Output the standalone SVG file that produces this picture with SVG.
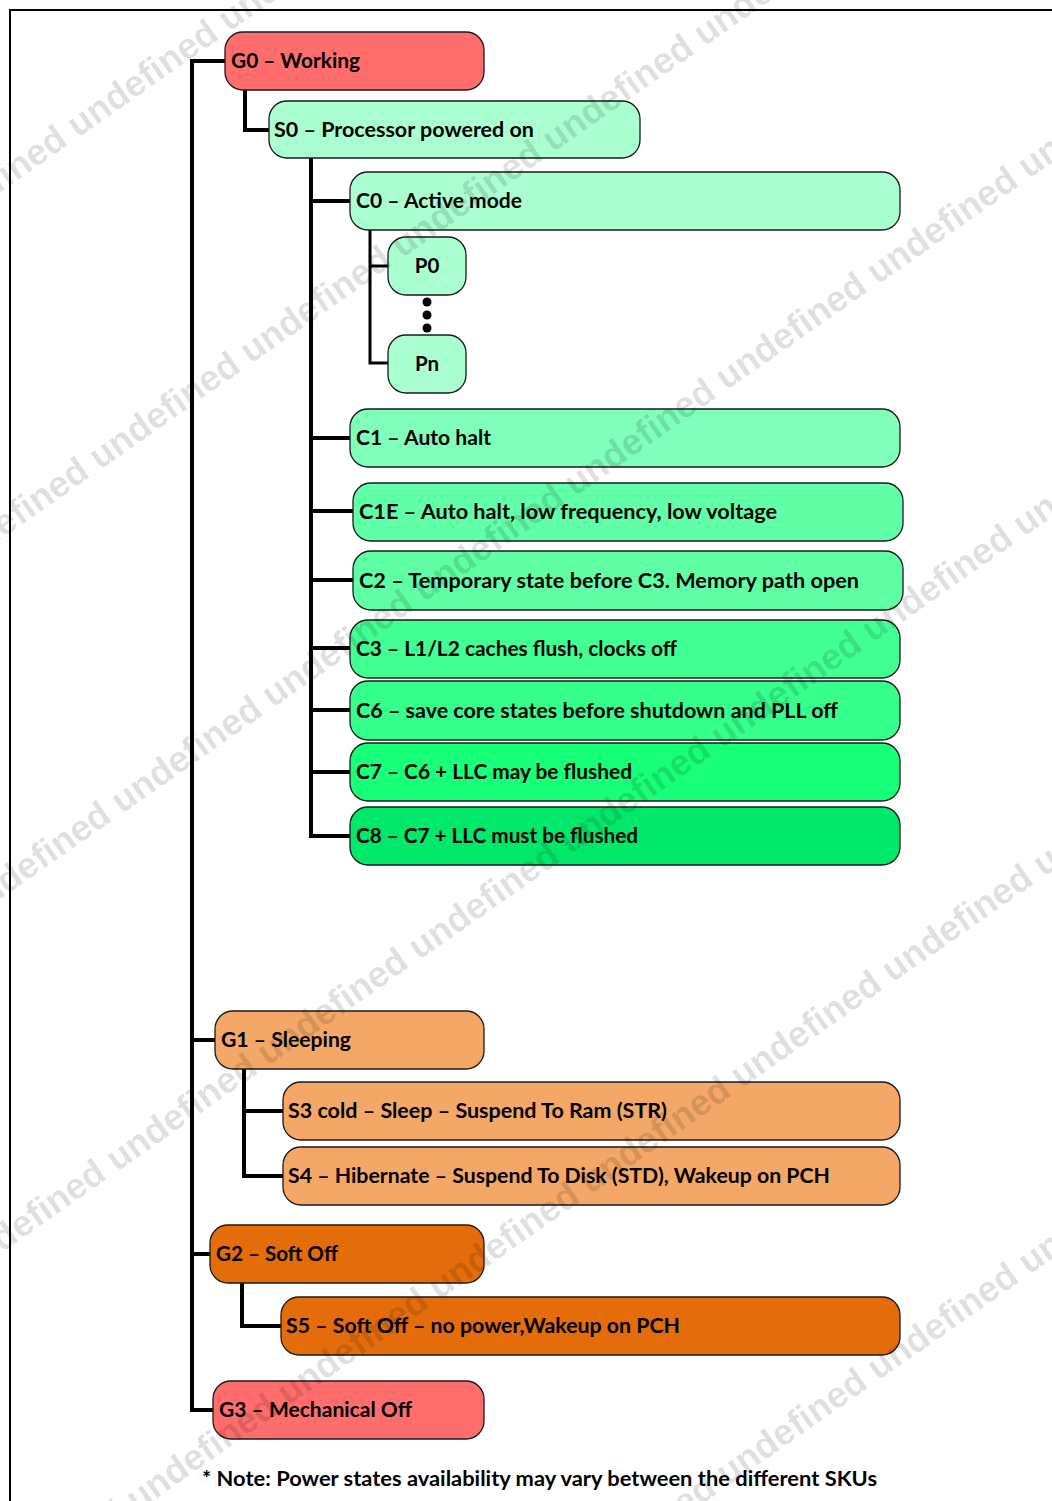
<svg xmlns="http://www.w3.org/2000/svg" width="1052" height="1501" viewBox="0 0 1052 1501">
<style>
.box{stroke:#1a1a1a;stroke-width:1.3}
.t{font-family:Lato,"Open Sans","Liberation Sans",sans-serif;font-weight:bold;font-size:20.5px;fill:#000}
.ln{fill:none;stroke:#000;stroke-width:4;stroke-linejoin:miter}
.wm{font-family:"Liberation Sans",Arial,sans-serif;font-weight:bold;font-size:36.5px;fill:#000;fill-opacity:0.12}
.red{fill:#FF6D6D}.mint{fill:#AAFFD0}.c1{fill:#7FFFB9}.c1e{fill:#61FFA7}.c2{fill:#61FFA5}.c3{fill:#42FF93}.c6{fill:#36FF8B}.c7{fill:#18FF78}.c8{fill:#00E86A}.sand{fill:#F4A766}.org{fill:#E46C0A}
</style>
<rect width="1052" height="1501" fill="#fff"/>
<g id="frame"><path d="M10 1501 V10 H1052" fill="none" stroke="#000" stroke-width="2"/></g>
<g id="connectors">
<path class="ln" d="M225 61 H192 V1410 H213"/>
<path class="ln" d="M192 1040 H215"/>
<path class="ln" d="M192 1254 H210"/>
<path class="ln" d="M245 90 V130 H270"/>
<path class="ln" d="M311 158 V836 H350"/>
<path class="ln" d="M311 201 H350 M311 438 H350 M311 511 H353 M311 580 H353 M311 648 H350 M311 710 H350 M311 772 H350"/>
<path class="ln" style="stroke-width:3" d="M370 230 V363 H389 M370 266 H389"/>
<path class="ln" d="M244 1069 V1176 H283 M244 1111 H283"/>
<path class="ln" d="M242 1283 V1326 H281"/>
</g>
<g id="G0"><rect class="box red" x="225" y="32" width="259" height="58" rx="18"/><text class="t" x="231" y="68" textLength="129" lengthAdjust="spacingAndGlyphs">G0 – Working</text></g>
<g id="S0"><rect class="box mint" x="269" y="101" width="371" height="57" rx="18"/><text class="t" x="274" y="137" textLength="260" lengthAdjust="spacingAndGlyphs">S0 – Processor powered on</text></g>
<g id="C0"><rect class="box mint" x="350" y="172" width="550" height="58" rx="18"/><text class="t" x="356" y="208" textLength="166" lengthAdjust="spacingAndGlyphs">C0 – Active mode</text></g>
<g id="P0"><rect class="box mint" x="388" y="237" width="78" height="58" rx="18"/><text class="t" x="427" y="273" text-anchor="middle">P0</text></g>
<g id="dots"><circle cx="427" cy="302" r="4.5"/><circle cx="427" cy="315" r="4.5"/><circle cx="427" cy="328" r="4.5"/></g>
<g id="Pn"><rect class="box mint" x="388" y="335" width="78" height="58" rx="18"/><text class="t" x="427" y="371" text-anchor="middle">Pn</text></g>
<g id="C1"><rect class="box c1" x="350" y="409" width="550" height="58" rx="18"/><text class="t" x="356" y="445" textLength="135" lengthAdjust="spacingAndGlyphs">C1 – Auto halt</text></g>
<g id="C1E"><rect class="box c1e" x="353" y="483" width="550" height="58" rx="18"/><text class="t" x="359" y="519" textLength="418" lengthAdjust="spacingAndGlyphs">C1E – Auto halt, low frequency, low voltage</text></g>
<g id="C2"><rect class="box c2" x="353" y="551" width="550" height="59" rx="18"/><text class="t" x="359" y="588" textLength="500" lengthAdjust="spacingAndGlyphs">C2 – Temporary state before C3. Memory path open</text></g>
<g id="C3"><rect class="box c3" x="350" y="620" width="550" height="58" rx="18"/><text class="t" x="356" y="656" textLength="321" lengthAdjust="spacingAndGlyphs">C3 – L1/L2 caches flush, clocks off</text></g>
<g id="C6"><rect class="box c6" x="350" y="681" width="550" height="59" rx="18"/><text class="t" x="356" y="718" textLength="482" lengthAdjust="spacingAndGlyphs">C6 – save core states before shutdown and PLL off</text></g>
<g id="C7"><rect class="box c7" x="350" y="743" width="550" height="58" rx="18"/><text class="t" x="356" y="779" textLength="276" lengthAdjust="spacingAndGlyphs">C7 – C6 + LLC may be flushed</text></g>
<g id="C8"><rect class="box c8" x="350" y="807" width="550" height="58" rx="18"/><text class="t" x="356" y="843" textLength="282" lengthAdjust="spacingAndGlyphs">C8 – C7 + LLC must be flushed</text></g>
<g id="G1"><rect class="box sand" x="215" y="1011" width="269" height="58" rx="18"/><text class="t" x="221" y="1047" textLength="130" lengthAdjust="spacingAndGlyphs">G1 – Sleeping</text></g>
<g id="S3"><rect class="box sand" x="283" y="1082" width="617" height="58" rx="18"/><text class="t" x="288" y="1118" textLength="379" lengthAdjust="spacingAndGlyphs">S3 cold – Sleep – Suspend To Ram (STR)</text></g>
<g id="S4"><rect class="box sand" x="283" y="1147" width="617" height="58" rx="18"/><text class="t" x="288" y="1183" textLength="542" lengthAdjust="spacingAndGlyphs">S4 – Hibernate – Suspend To Disk (STD), Wakeup on PCH</text></g>
<g id="G2"><rect class="box org" x="210" y="1225" width="274" height="58" rx="18"/><text class="t" x="216" y="1261" textLength="122" lengthAdjust="spacingAndGlyphs">G2 – Soft Off</text></g>
<g id="S5"><rect class="box org" x="281" y="1297" width="619" height="58" rx="18"/><text class="t" x="286" y="1333" textLength="394" lengthAdjust="spacingAndGlyphs">S5 – Soft Off – no power,Wakeup on PCH</text></g>
<g id="G3"><rect class="box red" x="213" y="1381" width="271" height="58" rx="18"/><text class="t" x="219" y="1417" textLength="193" lengthAdjust="spacingAndGlyphs">G3 – Mechanical Off</text></g>
<g id="note"><text class="t" x="202" y="1486" textLength="675" lengthAdjust="spacingAndGlyphs">* Note: Power states availability may vary between the different SKUs</text></g>
<g id="watermark">
<text class="wm" x="-73.5" y="244" transform="rotate(-35 -73.5 244)">undefined undefined undefined undefined undefined undefined undefined undefined undefined</text>
<text class="wm" x="-51.5" y="576" transform="rotate(-35 -51.5 576)">undefined undefined undefined undefined undefined undefined undefined undefined undefined</text>
<text class="wm" x="-29.5" y="920" transform="rotate(-35 -29.5 920)">undefined undefined undefined undefined undefined undefined undefined undefined undefined</text>
<text class="wm" x="-34.5" y="1278" transform="rotate(-35 -34.5 1278)">undefined undefined undefined undefined undefined undefined undefined undefined undefined</text>
<text class="wm" x="-14.5" y="1618" transform="rotate(-35 -14.5 1618)">undefined undefined undefined undefined undefined undefined undefined undefined undefined</text>
<text class="wm" x="-29" y="2016" transform="rotate(-35 -29 2016)">undefined undefined undefined undefined undefined undefined undefined undefined undefined undefined undefined</text>
</g>
</svg>
